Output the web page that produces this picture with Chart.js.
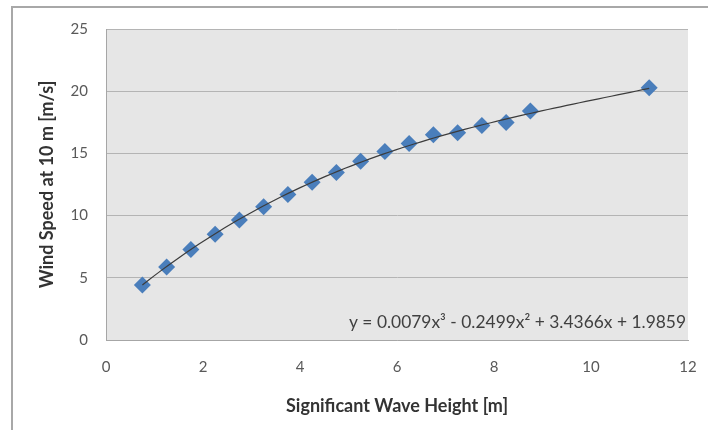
<!DOCTYPE html>
<html>
<head>
<meta charset="utf-8">
<script src="https://cdn.jsdelivr.net/npm/chart.js@4.4.0/dist/chart.umd.min.js"></script>
<style>
html, body { margin: 0; padding: 0; background: #fff; }
</style>
</head>
<body>
<canvas id="chart" width="708" height="430"></canvas>
<script>
// values
const waveHeight = [0.75, 1.25, 1.75, 2.25, 2.75, 3.25, 3.75, 4.25, 4.75, 5.25,
    5.75, 6.25, 6.75, 7.25, 7.75, 8.25, 8.75, 11.2];
const windSpeed = [4.43, 5.87, 7.27, 8.51, 9.65, 10.72, 11.69, 12.68, 13.47, 14.36,
    15.15, 15.8, 16.5, 16.65, 17.25, 17.48, 18.4, 20.27];

// cubic trendline, as printed on the chart (c0 + c1 x + c2 x^2 + c3 x^3)
const trendCoefs = [1.9859, 3.4366, -0.2499, 0.0079];
const trendLabel = "y = 0.0079x³ - 0.2499x² + 3.4366x + 1.9859";

const xTicks = [0, 2, 4, 6, 8, 10, 12];
const yTicks = [0, 5, 10, 15, 20, 25];

const FONT = "Lato, 'Open Sans', sans-serif";

function trendPoints() {
    const pts = [];
    const x0 = waveHeight[0];
    const x1 = waveHeight[waveHeight.length - 1];
    const n = 80;
    for (let i = 0; i <= n; i++) {
        const x = x0 + (x1 - x0) * i / n;
        let y = 0;
        trendCoefs.forEach((c, k) => { y += c * Math.pow(x, k); });
        pts.push({ x: x, y: y });
    }
    return pts;
}

const frame = {
    id: "frame",
    beforeDraw(chart) {
        const ctx = chart.ctx;
        const a = chart.chartArea;
        ctx.save();
        ctx.fillStyle = "#e6e6e6";
        ctx.fillRect(a.left, a.top, a.right - a.left, a.bottom - a.top);
        // outer chart border (top and left only visible)
        ctx.strokeStyle = "#a8a8a8";
        ctx.lineWidth = 2;
        ctx.beginPath();
        ctx.moveTo(12, 430);
        ctx.lineTo(12, 7);
        ctx.lineTo(708, 7);
        ctx.stroke();
        ctx.restore();
    },
    afterDraw(chart) {
        const ctx = chart.ctx;
        const a = chart.chartArea;
        ctx.save();
        ctx.font = "17.4px " + FONT;
        ctx.fillStyle = "#404040";
        ctx.textAlign = "right";
        ctx.textBaseline = "alphabetic";
        ctx.fillText(trendLabel, a.right - 2, a.bottom - 12);
        ctx.restore();
    }
};

new Chart(document.getElementById("chart"), {
    type: "scatter",
    data: {
        datasets: [{
            type: "line",
            label: "Trend",
            data: trendPoints(),
            borderColor: "#3c3c3c",
            borderWidth: 1.2,
            pointRadius: 0,
            fill: false,
            tension: 0
        }, {
            label: "Wind speed",
            data: waveHeight.map((x, i) => ({ x: x, y: windSpeed[i] })),
            pointStyle: "rectRot",
            pointRadius: 8.5,
            backgroundColor: "#4a7ebb",
            borderWidth: 0
        }]
    },
    options: {
        responsive: false,
        devicePixelRatio: 1,
        animation: false,
        layout: { padding: { top: 29, right: 20, left: 0, bottom: 0 } },
        plugins: {
            legend: { display: false },
            tooltip: { enabled: false }
        },
        scales: {
            x: {
                type: "linear",
                min: 0,
                max: 12,
                afterBuildTicks: (s) => { s.ticks = xTicks.map(v => ({ value: v })); },
                afterFit: (s) => {
                    s.height = 90;
                    s.paddingLeft = 0;
                    s.paddingRight = 0;
                },
                ticks: {
                    padding: 18,
                    color: "#595959",
                    font: { family: FONT, size: 15 }
                },
                grid: { display: false, drawTicks: false },
                border: { display: true, color: "#a6a6a6", width: 1 },
                title: {
                    display: true,
                    text: "Significant Wave Height [m]",
                    color: "#333333",
                    font: { family: FONT, size: 18, weight: "bold" },
                    padding: { top: 0, bottom: 13 }
                }
            },
            y: {
                min: 0,
                max: 25,
                afterBuildTicks: (s) => { s.ticks = yTicks.map(v => ({ value: v })); },
                afterFit: (s) => { s.width = 106; },
                ticks: {
                    padding: 18,
                    color: "#595959",
                    font: { family: FONT, size: 15 }
                },
                grid: { color: "#b4b4b4", lineWidth: 1, drawTicks: false },
                border: { display: true, color: "#a6a6a6", width: 1 },
                title: {
                    display: true,
                    text: "Wind Speed at 10 m [m/s]",
                    color: "#333333",
                    font: { family: FONT, size: 18, weight: "bold" },
                    padding: { top: 36, bottom: 0 }
                }
            }
        }
    },
    plugins: [frame]
});
</script>
</body>
</html>
